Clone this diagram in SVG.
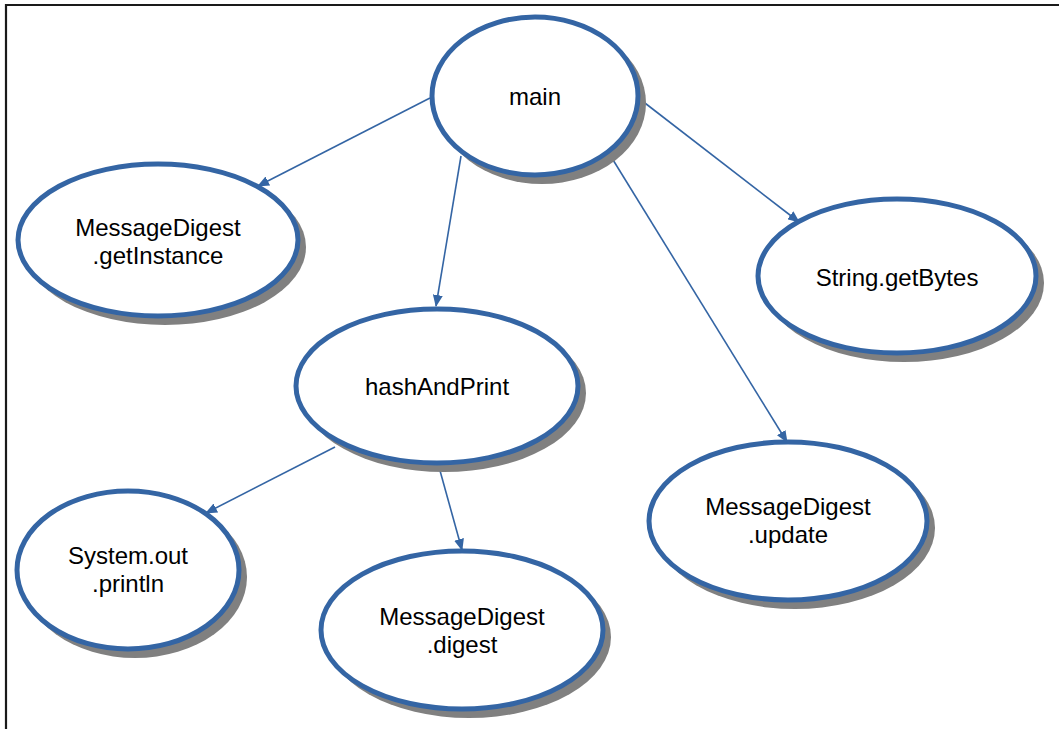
<svg xmlns="http://www.w3.org/2000/svg" width="1059" height="729" viewBox="0 0 1059 729">
<style>
.shadow{fill:#808080;stroke:none}
.node{fill:#ffffff;stroke:#3465a4;stroke-width:5}
.label{font-family:"Liberation Sans",Arial,sans-serif;font-size:24px;fill:#000000;text-anchor:middle}
.edge{fill:none;stroke:#3465a4;stroke-width:1.6;marker-end:url(#arrow)}
</style>
<defs>
<marker id="arrow" viewBox="0 0 12 10" refX="11" refY="5" markerWidth="12" markerHeight="10" markerUnits="userSpaceOnUse" orient="auto">
<path d="M0,0 L12,5 L0,10 Z" fill="#3465a4"/>
</marker>
</defs>
<rect x="0" y="0" width="1059" height="729" fill="#ffffff"/>
<path d="M6,729 V5 H1059" fill="none" stroke="#1a1a1a" stroke-width="2.2"/>
<g id="connectors">
<line class="edge" x1="430" y1="98" x2="258" y2="186"/>
<line class="edge" x1="461" y1="156" x2="436" y2="306"/>
<line class="edge" x1="610" y1="155" x2="787" y2="442"/>
<line class="edge" x1="641" y1="100" x2="799" y2="222"/>
<line class="edge" x1="335" y1="447" x2="206" y2="513"/>
<line class="edge" x1="439" y1="467" x2="462" y2="550"/>
</g>
<g id="main">
<ellipse class="shadow" cx="542" cy="103" rx="104" ry="81"/>
<ellipse class="node" cx="535" cy="96" rx="103" ry="79"/>
<text class="label" x="535" y="105">main</text>
</g>
<g id="getInstance">
<ellipse class="shadow" cx="165" cy="247" rx="141" ry="78"/>
<ellipse class="node" cx="158" cy="240" rx="140" ry="76"/>
<text class="label" x="158" y="236">MessageDigest</text>
<text class="label" x="158" y="264">.getInstance</text>
</g>
<g id="getBytes">
<ellipse class="shadow" cx="904" cy="283" rx="140" ry="79"/>
<ellipse class="node" cx="897" cy="276" rx="139" ry="77"/>
<text class="label" x="897" y="286">String.getBytes</text>
</g>
<g id="hashAndPrint">
<ellipse class="shadow" cx="444" cy="393" rx="142" ry="79"/>
<ellipse class="node" cx="437" cy="386" rx="141" ry="77"/>
<text class="label" x="437" y="395">hashAndPrint</text>
</g>
<g id="println">
<ellipse class="shadow" cx="135" cy="577" rx="112" ry="81"/>
<ellipse class="node" cx="128" cy="570" rx="111" ry="79"/>
<text class="label" x="128" y="564">System.out</text>
<text class="label" x="128" y="592">.println</text>
</g>
<g id="digest">
<ellipse class="shadow" cx="469" cy="637" rx="142" ry="81"/>
<ellipse class="node" cx="462" cy="630" rx="141" ry="79"/>
<text class="label" x="462" y="625">MessageDigest</text>
<text class="label" x="462" y="653">.digest</text>
</g>
<g id="update">
<ellipse class="shadow" cx="795" cy="528" rx="140" ry="81"/>
<ellipse class="node" cx="788" cy="521" rx="139" ry="79"/>
<text class="label" x="788" y="515">MessageDigest</text>
<text class="label" x="788" y="543">.update</text>
</g>
</svg>
